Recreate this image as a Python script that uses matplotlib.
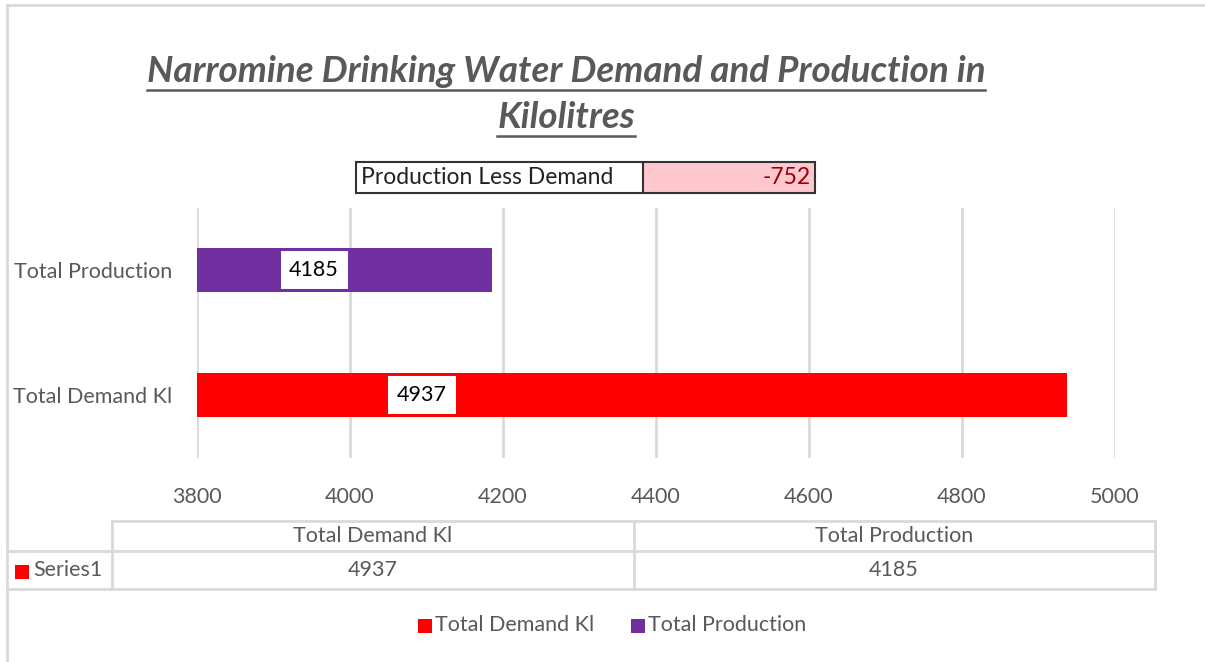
import matplotlib.pyplot as plt
from matplotlib.lines import Line2D

categories = ['Total Demand Kl', 'Total Production']
values = [4937, 4185]
colors = ['#FF0000', '#7030A0']
difference_label = 'Production Less Demand'
difference_value = -752
xticks = [3800, 4000, 4200, 4400, 4600, 4800, 5000]
title_lines = ['Narromine Drinking Water Demand and Production in', 'Kilolitres']
label_x = [4094, 3953]  # where Excel put the value boxes

plt.rcParams['font.family'] = ['Lato', 'DejaVu Sans']
grey = '#595959'
gridc = '#D9D9D9'
fs = 15.5

fig = plt.figure(figsize=(12.05, 6.62), dpi=100)
W, H = 1205, 662


def fx(px):
    return px / W


def fy(py):
    return 1 - py / H


def square(xc, yc, col):
    # little coloured key square, centre given in pixels
    fig.add_artist(Line2D([fx(xc)], [fy(yc)], transform=fig.transFigure, marker='s',
                          markersize=9.4, markerfacecolor=col, markeredgewidth=0,
                          linestyle='none'))


# chart border (top and left only visible)
fig.add_artist(Line2D([fx(7), 1], [fy(5)] * 2, transform=fig.transFigure, color=gridc, lw=2))
fig.add_artist(Line2D([fx(7)] * 2, [fy(5), 0], transform=fig.transFigure, color=gridc, lw=2))

ax = fig.add_axes([fx(197), fy(457.5), fx(1115) - fx(197), (457.5 - 207.5) / H])
ax.barh(range(len(values)), [v - 3800 for v in values], left=3800, height=0.35,
        color=colors, zorder=2)
ax.set_xlim(3800, 5000)
ax.set_ylim(-0.5, 1.5)
ax.set_xticks(xticks)
ax.set_yticks(range(len(categories)))
ax.set_yticklabels(categories)
ax.grid(axis='x', color=gridc, lw=2, zorder=0)
for s in ax.spines.values():
    s.set_visible(False)
ax.tick_params(axis='x', length=0, pad=21, labelsize=fs, labelcolor=grey)
ax.tick_params(axis='y', length=0, pad=18, labelsize=fs, labelcolor=grey)

for i, v in enumerate(values):
    ax.text(label_x[i], i, str(v), ha='center', va='center', fontsize=fs, color='black',
            zorder=4, bbox=dict(boxstyle='square,pad=0.4', fc='white', ec='none'))

# title with underline
title_y = [72, 118]
texts = []
for t, y in zip(title_lines, title_y):
    texts.append(fig.text(fx(566), fy(y), t, ha='center', va='center', fontsize=26.5,
                          fontweight='bold', fontstyle='italic', color=grey))
fig.canvas.draw()
r = fig.canvas.get_renderer()
for t in texts:
    bb = t.get_window_extent(r)
    yl = bb.y0 - 1
    fig.add_artist(Line2D([bb.x0 / W, bb.x1 / W], [yl / H, yl / H],
                          transform=fig.transFigure, color=grey, lw=1.8))

# production less demand box
bx0, bxm, bx1, by0, by1 = 356, 643, 815, 162, 193
fig.add_artist(plt.Rectangle((fx(bxm), fy(by1)), fx(bx1) - fx(bxm), fy(by0) - fy(by1),
                             transform=fig.transFigure, fc='#FFC7CE', ec='none', zorder=5))
fig.add_artist(plt.Rectangle((fx(bx0), fy(by1)), fx(bx1) - fx(bx0), fy(by0) - fy(by1),
                             transform=fig.transFigure, fill=False, ec='#333333', lw=1.5,
                             zorder=6))
fig.add_artist(Line2D([fx(bxm)] * 2, [fy(by0), fy(by1)], transform=fig.transFigure,
                      color='#333333', lw=1.5, zorder=6))
fig.text(fx(bx0 + 5), fy((by0 + by1) / 2), difference_label, ha='left', va='center',
         fontsize=16.5, color='#222222', zorder=7)
fig.text(fx(bx1 - 4), fy((by0 + by1) / 2), str(difference_value), ha='right', va='center',
         fontsize=16.5, color='#9C0006', zorder=7)

# data table
tl = dict(transform=fig.transFigure, color=gridc, lw=2)
fig.add_artist(Line2D([fx(112), fx(1155)], [fy(521)] * 2, **tl))
fig.add_artist(Line2D([fx(7), fx(1155)], [fy(551)] * 2, **tl))
fig.add_artist(Line2D([fx(7), fx(1155)], [fy(589)] * 2, **tl))
for xv in [112, 634, 1155]:
    fig.add_artist(Line2D([fx(xv)] * 2, [fy(521), fy(589)], **tl))
col_c = [373, 894]
for c, v, xc in zip(categories, values, col_c):
    fig.text(fx(xc), fy(536), c, ha='center', va='center', fontsize=fs, color=grey)
    fig.text(fx(xc), fy(570), str(v), ha='center', va='center', fontsize=fs, color=grey)
square(21.5, 572, colors[0])
fig.text(fx(33), fy(570), 'Series1', ha='left', va='center', fontsize=fs, color=grey)

# legend
leg_x = [418, 631]
for c, col, xl in zip(categories, colors, leg_x):
    square(xl + 6.5, 625.5, col)
    fig.text(fx(xl + 17), fy(625), c, ha='left', va='center', fontsize=fs, color=grey)

fig.savefig('out.png', dpi=100)
